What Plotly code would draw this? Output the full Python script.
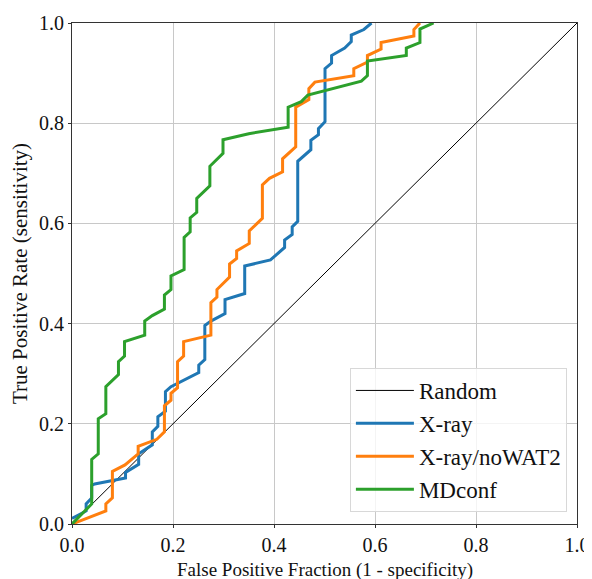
import plotly.graph_objects as go

random_x = [0.0, 1.0]
random_y = [0.0, 1.0]

xray_fpr = [0.0, 0.028, 0.028, 0.039, 0.039, 0.045, 0.106, 0.106, 0.132, 0.132, 0.159, 0.159,
            0.17, 0.17, 0.185, 0.185, 0.196, 0.251, 0.251, 0.263, 0.263, 0.275, 0.303, 0.303,
            0.342, 0.342, 0.393, 0.421, 0.421, 0.436, 0.436, 0.447, 0.447, 0.473, 0.473, 0.488,
            0.488, 0.501, 0.501, 0.514, 0.514, 0.54, 0.553, 0.553, 0.578, 0.593]
xray_tpr = [0.011, 0.026, 0.04, 0.052, 0.077, 0.08, 0.092, 0.103, 0.119, 0.14, 0.158, 0.184,
            0.195, 0.214, 0.225, 0.264, 0.274, 0.302, 0.317, 0.328, 0.396, 0.405, 0.42, 0.448,
            0.46, 0.515, 0.527, 0.552, 0.567, 0.578, 0.593, 0.604, 0.724, 0.747, 0.766, 0.777,
            0.789, 0.803, 0.909, 0.92, 0.935, 0.95, 0.963, 0.976, 0.987, 1.0]

nowat_fpr = [0.0, 0.028, 0.067, 0.067, 0.08, 0.08, 0.105, 0.131, 0.131, 0.168, 0.183, 0.183,
             0.196, 0.196, 0.209, 0.209, 0.221, 0.221, 0.275, 0.275, 0.287, 0.287, 0.312, 0.312,
             0.326, 0.326, 0.351, 0.351, 0.377, 0.377, 0.391, 0.417, 0.417, 0.443, 0.443, 0.469,
             0.469, 0.481, 0.558, 0.558, 0.585, 0.585, 0.612, 0.612, 0.677, 0.677, 0.689]
nowat_tpr = [0.0, 0.011, 0.026, 0.04, 0.052, 0.105, 0.118, 0.14, 0.155, 0.169, 0.184, 0.236,
             0.247, 0.261, 0.272, 0.324, 0.335, 0.364, 0.377, 0.442, 0.453, 0.468, 0.493, 0.519,
             0.53, 0.545, 0.56, 0.585, 0.61, 0.677, 0.69, 0.703, 0.729, 0.753, 0.832, 0.847,
             0.869, 0.882, 0.895, 0.909, 0.922, 0.935, 0.948, 0.961, 0.974, 0.987, 1.0]

md_fpr = [0.0, 0.039, 0.039, 0.052, 0.052, 0.067, 0.067, 0.092, 0.092, 0.104, 0.104, 0.144,
          0.144, 0.159, 0.183, 0.183, 0.196, 0.196, 0.222, 0.222, 0.234, 0.234, 0.247, 0.247,
          0.273, 0.273, 0.299, 0.299, 0.35, 0.428, 0.428, 0.454, 0.467, 0.573, 0.585, 0.585,
          0.662, 0.662, 0.689, 0.689, 0.716]
md_tpr = [0.0, 0.04, 0.129, 0.14, 0.21, 0.22, 0.274, 0.298, 0.324, 0.335, 0.364, 0.377,
          0.405, 0.416, 0.429, 0.457, 0.468, 0.495, 0.508, 0.572, 0.583, 0.611, 0.622, 0.65,
          0.675, 0.714, 0.74, 0.767, 0.779, 0.792, 0.832, 0.843, 0.856, 0.884, 0.895, 0.924,
          0.935, 0.95, 0.961, 0.988, 1.0]

tick_vals = [0.0, 0.2, 0.4, 0.6, 0.8, 1.0]
tick_text = ["0.0", "0.2", "0.4", "0.6", "0.8", "1.0"]
x_title = "False Positive Fraction (1 - specificity)"
y_title = "True Positive Rate (sensitivity)"

FONT = "Liberation Serif"

fig = go.Figure()
fig.add_trace(go.Scatter(x=random_x, y=random_y, mode="lines", name="Random",
                         line=dict(color="black", width=1), legendgroup="a"))
fig.add_trace(go.Scatter(x=xray_fpr, y=xray_tpr, mode="lines", name="X-ray",
                         line=dict(color="#1f77b4", width=3), legendgroup="b"))
fig.add_trace(go.Scatter(x=nowat_fpr, y=nowat_tpr, mode="lines", name="X-ray/noWAT2",
                         line=dict(color="#ff7f0e", width=3), legendgroup="c"))
fig.add_trace(go.Scatter(x=md_fpr, y=md_tpr, mode="lines", name="MDconf",
                         line=dict(color="#2ca02c", width=3), legendgroup="d"))

axis_common = dict(
    range=[0, 1], tickvals=tick_vals, ticktext=tick_text,
    showgrid=True, gridcolor="#c8c8c8", gridwidth=1,
    showline=True, linecolor="#333333", linewidth=1.2, mirror=True,
    ticks="outside", ticklen=3, tickcolor="#333333",
    zeroline=False, automargin=False,
    tickfont=dict(family=FONT, size=20, color="#111111"),
)

fig.update_layout(
    width=584, height=571,
    margin=dict(l=64, r=15, t=15, b=55),
    paper_bgcolor="white", plot_bgcolor="white",
    font=dict(family=FONT, size=20, color="#111111"),
    xaxis=dict(**axis_common),
    yaxis=dict(**axis_common, title=dict(text=y_title,
                                         font=dict(family=FONT, size=21), standoff=6)),
    legend=dict(x=0.98, y=0.024, xanchor="right", yanchor="bottom",
                bgcolor="rgba(255,255,255,0.8)", bordercolor="#d8d8d8", borderwidth=1,
                font=dict(family=FONT, size=23), tracegroupgap=0, itemwidth=58),
    showlegend=True,
    annotations=[dict(text=x_title, xref="paper", yref="paper", x=0.5, y=0,
                      xanchor="center", yanchor="middle", yshift=-46, showarrow=False,
                      font=dict(family=FONT, size=19, color="#111111"))],
)

fig.write_html("out.html")
